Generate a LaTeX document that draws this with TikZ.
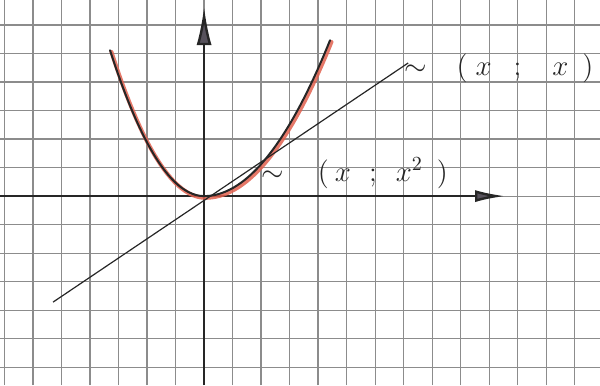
\documentclass[tikz,border=0pt]{standalone}
\usetikzlibrary{arrows.meta}
\definecolor{tinta}{HTML}{262626}
\definecolor{rojo}{HTML}{E0604E}
\definecolor{cuadro}{HTML}{8C8C8C}
\definecolor{flecha}{HTML}{57525C}

\tikzset{
  eje/.style={tinta,line width=1.2pt},
  etiqueta/.style={tinta,font=\Large,inner sep=0pt,anchor=west},
}

\begin{document}
\begin{tikzpicture}[x=0.5cm,y=0.5cm]
        \useasboundingbox (-7.16,-6.63) rectangle (13.89,6.88);
        \draw[cuadro,line width=0.6pt,step=0.5cm] (-7.16,-6.63) grid (13.89,6.88);
        \coordinate (xini) at (-7.16,0);
        \coordinate (xfin) at (10.56,0);
        \coordinate (yini) at (0,-6.63);
        \coordinate (yfin) at (0,6.63);
        \draw[eje,-{Latex[length=15pt,width=6pt,fill=flecha]}] (xini) -- (xfin);
        \draw[eje,-{Latex[length=19pt,width=7.5pt,fill=flecha]}] (yini) -- (yfin);
        \draw[rojo,line width=2pt,line cap=round,opacity=0.85,shift={(0.05,-0.06)}]
          plot[domain=-3.3:4.42,samples=60,smooth] (\x,{((\x<0)*0.47+(\x>=0)*0.28)*\x*\x});
        \draw[tinta,line width=1pt,line cap=round]
          plot[domain=-3.3:4.42,samples=60,smooth] (\x,{((\x<0)*0.47+(\x>=0)*0.28)*\x*\x});
        \coordinate (lini) at (-5.3,-3.72);
        \coordinate (lfin) at (7.16,4.67);
        \draw[tinta,line width=0.6pt] (lini) -- (lfin);
        \node[etiqueta] (lblx) at (7.0,4.5)
          {$\sim\hspace{11pt}(\hspace{4pt}x\hspace{11pt};\hspace{13pt}x\hspace{7pt})$};
        \node[etiqueta] (lblxx) at (2.0,0.8)
          {$\sim\hspace{13pt}(\hspace{3pt}x\hspace{9pt};\hspace{7pt}x^2\hspace{7pt})$};
      \end{tikzpicture}
\end{document}
